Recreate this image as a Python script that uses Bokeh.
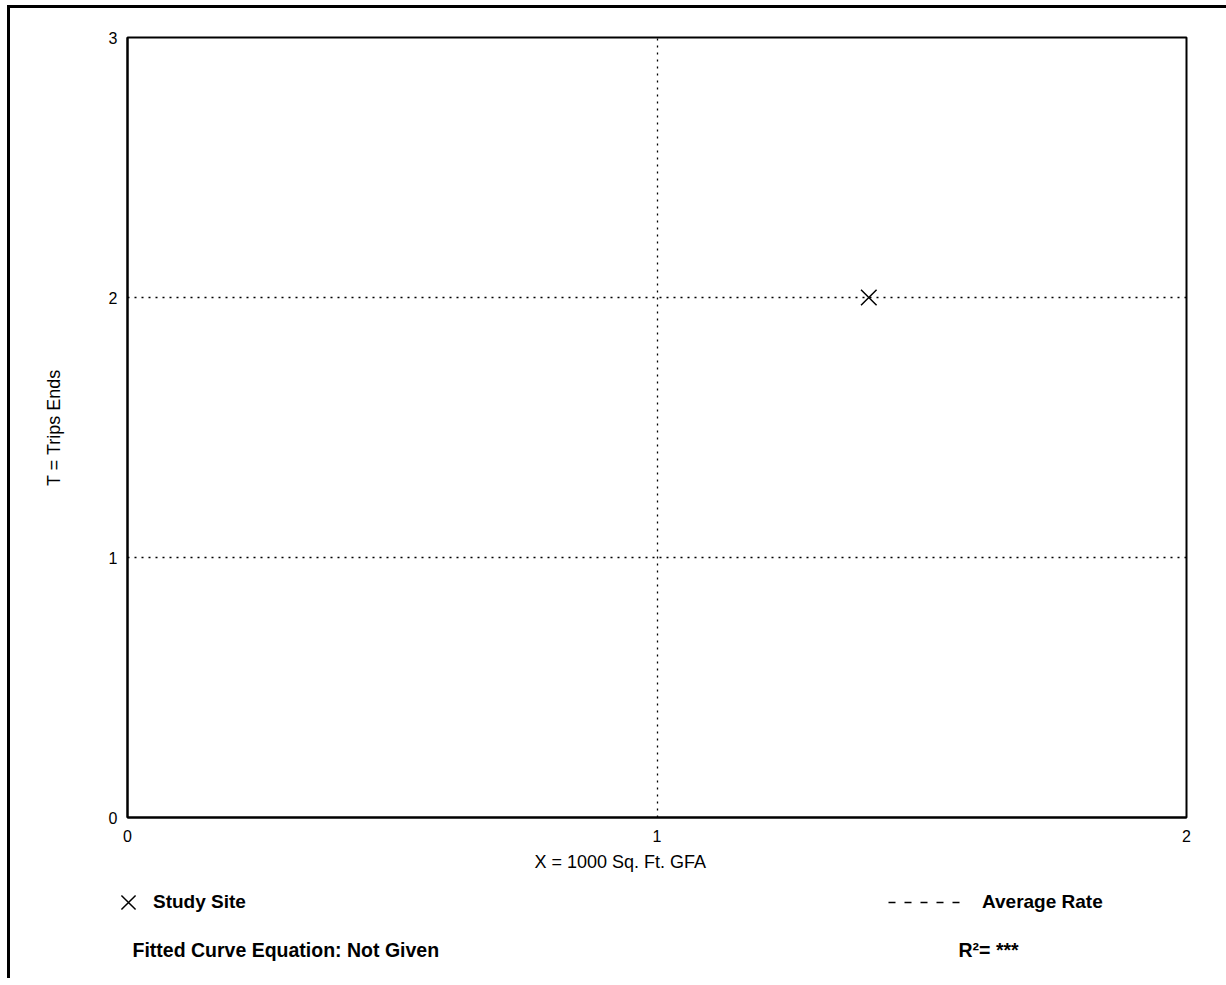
from bokeh.plotting import figure
from bokeh.layouts import column
from bokeh.models import Range1d, FixedTicker, Legend, LegendItem, Label, Title
from bokeh.embed import file_html
from bokeh.resources import INLINE

# ---- data ----
x_ticks = [0, 1, 2]
y_ticks = [0, 1, 2, 3]
site_x = [1.4]
site_y = [2.0]
x_title = "X = 1000 Sq. Ft. GFA"
y_title = "T = Trips Ends"
site_label = "Study Site"
avg_label = "Average Rate"
eq_text = "Fitted Curve Equation: Not Given"
r2_text = "R²= ***"

FONT = "Liberation Sans"
W = 1216

# ---- main chart ----
p = figure(width=W, height=869, x_range=Range1d(0, 2), y_range=Range1d(0, 3),
           output_backend="svg", toolbar_location=None,
           min_border_left=117, min_border_right=40, min_border_top=29, min_border_bottom=60)
p.frame_align = False
p.outline_line_color = "black"
p.outline_line_width = 2

for ax, ticks in ((p.xaxis, x_ticks), (p.yaxis, y_ticks)):
    ax.ticker = FixedTicker(ticks=ticks)
    ax.axis_line_width = 2
    ax.axis_line_color = "black"
    ax.major_tick_out = 0
    ax.major_tick_in = 0
    ax.minor_tick_out = 0
    ax.minor_tick_in = 0
    ax.major_label_text_font = FONT
    ax.major_label_text_font_size = "16px"
    ax.major_label_text_color = "black"
    ax.axis_label_text_font = FONT
    ax.axis_label_text_font_size = "18px"
    ax.axis_label_text_font_style = "normal"
    ax.axis_label_text_color = "black"

p.xaxis.major_label_standoff = 12
p.yaxis.axis_label = y_title
p.yaxis.major_label_standoff = 10
p.yaxis.axis_label_standoff = 42

# x-axis title, set slightly left of centre as in the original
p.add_layout(Title(text=x_title, align="left", offset=407, standoff=10,
                   text_font=FONT, text_font_size="18px", text_font_style="normal",
                   text_color="black"), "below")

p.xgrid.ticker = FixedTicker(ticks=x_ticks)
p.ygrid.ticker = FixedTicker(ticks=y_ticks)
for g in (p.xgrid, p.ygrid):
    g.grid_line_color = "black"
    g.grid_line_dash = "2 5"
    g.grid_line_width = 1.3

p.scatter(site_x, site_y, marker="x", size=22, line_color="black", line_width=1.5)

# ---- footer with the key ----
f = figure(width=W, height=101, x_range=Range1d(0, 1), y_range=Range1d(0, 1),
           output_backend="svg", toolbar_location=None,
           x_axis_location=None, y_axis_location=None,
           min_border_left=0, min_border_right=0, min_border_top=0, min_border_bottom=0)
f.frame_align = False
f.outline_line_color = None
f.grid.visible = False
k_site = f.scatter(site_x, site_y, marker="x", size=22, line_color="black", line_width=1.5,
                   visible=False)
k_avg = f.line(site_x, site_y, line_dash="7 9", line_color="black", line_width=1.6,
               visible=False)

common = dict(padding=0, margin=0, border_line_color=None, background_fill_alpha=0,
              inactive_fill_alpha=0,
              label_text_font=FONT, label_text_font_size="19px", label_text_font_style="bold",
              label_text_color="black")
leg1 = Legend(items=[LegendItem(label=site_label, renderers=[k_site])],
              location=(93, 51), glyph_width=50, glyph_height=50, label_height=22,
              label_standoff=0, **common)
leg2 = Legend(items=[LegendItem(label=avg_label, renderers=[k_avg])],
              location=(878, 65), glyph_width=80, glyph_height=22, label_height=22,
              label_standoff=14, **common)
f.add_layout(leg1)
f.add_layout(leg2)
for txt, xs in ((eq_text, 122), (r2_text, 948)):
    f.add_layout(Label(x=xs, y=29, x_units="screen", y_units="screen", text=txt,
                       text_font=FONT, text_font_size="19.5px", text_font_style="bold",
                       text_baseline="middle", text_color="black"))

layout = column(p, f, spacing=0)
layout.styles = {"margin-left": "7px", "margin-top": "5px",
                 "border-left": "3px solid black", "border-top": "3px solid black"}

open("out.html", "w").write(file_html(layout, INLINE))
